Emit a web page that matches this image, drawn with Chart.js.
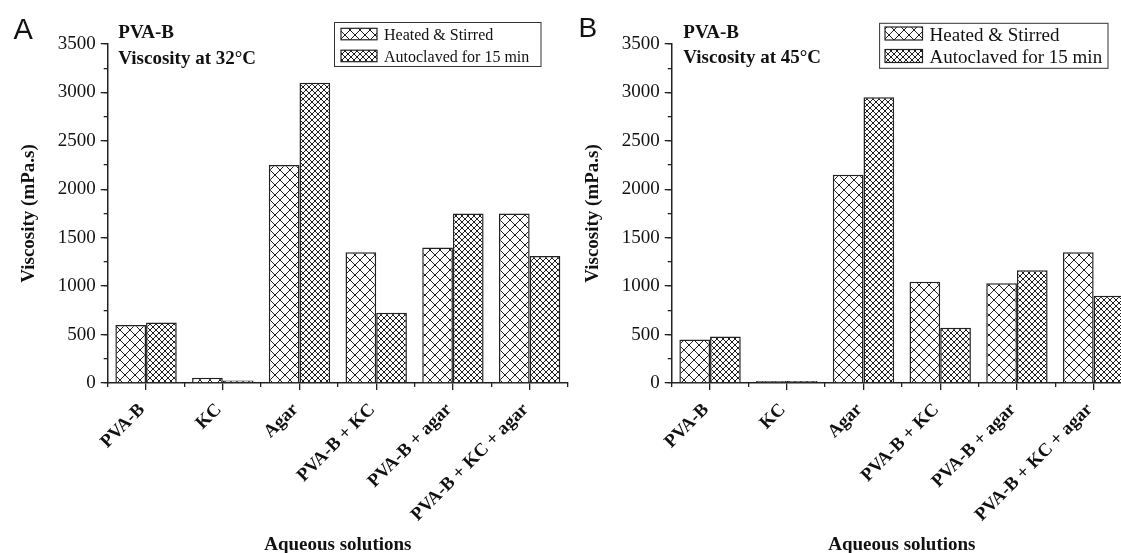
<!DOCTYPE html>
<html><head><meta charset="utf-8">
<script src="https://cdn.jsdelivr.net/npm/chart.js@4.4.1/dist/chart.umd.min.js"></script>
<style>
html,body{margin:0;padding:0;background:#fff;overflow:hidden;}
#wrap{position:relative;width:1121px;height:553px;overflow:hidden;background:#fff;}
.panel{position:absolute;top:0;width:572px;height:553px;}
</style></head><body>
<div id="wrap">
<div class="panel" style="left:0"><canvas id="cA" width="572" height="553"></canvas></div>
<div class="panel" style="left:564px"><canvas id="cB" width="572" height="553"></canvas></div>
</div>
<script>
// ---- data ----
const categories = ['PVA-B', 'KC', 'Agar', 'PVA-B + KC', 'PVA-B + agar', 'PVA-B + KC + agar'];
const seriesNames = ['Heated & Stirred', 'Autoclaved for 15 min'];
const heatedA = [600, 55, 2250, 1350, 1400, 1750];
const autoclavedA = [625, 25, 3100, 725, 1750, 1310];
const heatedB = [450, 20, 2150, 1045, 1030, 1350];
const autoclavedB = [480, 20, 2950, 570, 1165, 900];
const yMin = 0, yMax = 3500, yMajorStep = 500, yMinorStep = 250;
const xTitle = 'Aqueous solutions';
const yTitle = 'Viscosity (mPa.s)';
const notesA = ['PVA-B', 'Viscosity at 32\u00B0C'];
const notesB = ['PVA-B', 'Viscosity at 45\u00B0C'];

// ---- hatch patterns ----
function makeHatch(size) {
  const c = document.createElement('canvas');
  c.width = size; c.height = size;
  const g = c.getContext('2d');
  g.fillStyle = '#fff'; g.fillRect(0, 0, size, size);
  g.strokeStyle = '#1e1e1e'; g.lineWidth = 1;
  g.beginPath();
  g.moveTo(-1, -1); g.lineTo(size + 1, size + 1);
  g.moveTo(size + 1, -1); g.lineTo(-1, size + 1);
  g.stroke();
  return document.createElement('canvas').getContext('2d').createPattern(c, 'repeat');
}
const patHeated = makeHatch(10);
const patAuto = makeHatch(6);

const SERIF = '"Liberation Serif", "Times New Roman", serif';

const decor = {
  id: 'panelDecor',
  afterDraw(chart, args, o) {
    const ctx = chart.ctx;
    ctx.save();
    ctx.textBaseline = 'alphabetic'; ctx.textAlign = 'left';
    ctx.fillStyle = '#111';
    ctx.font = o.letterSize + 'px "Liberation Sans", Arial, sans-serif';
    ctx.fillText(o.letter, o.letterX, o.letterY);
    ctx.font = 'bold 19px ' + SERIF;
    ctx.fillText(o.notes[0], o.noteX, o.noteY[0]);
    ctx.fillText(o.notes[1], o.noteX, o.noteY[1]);
    const L = o.legend;
    ctx.strokeStyle = '#333'; ctx.lineWidth = 1;
    ctx.strokeRect(L.x, L.y, L.w, L.h);
    chart.data.datasets.forEach((ds, i) => {
      ctx.fillStyle = ds.backgroundColor;
      ctx.fillRect(L.swX, L.swY[i], L.swW, L.swH);
      ctx.strokeStyle = '#222'; ctx.lineWidth = 1.2;
      ctx.strokeRect(L.swX, L.swY[i], L.swW, L.swH);
      ctx.fillStyle = '#111';
      ctx.font = L.font + 'px ' + SERIF;
      ctx.fillText(ds.label, L.textX, L.textY[i]);
    });
    ctx.restore();
  }
};

function makeChart(id, heated, autoclaved, decorOpts) {
  return new Chart(document.getElementById(id), {
    type: 'bar',
    data: {
      labels: categories,
      datasets: [
        { label: seriesNames[0], data: heated, backgroundColor: patHeated, borderColor: '#222', borderWidth: 1.5, barPercentage: 1, categoryPercentage: 0.8 },
        { label: seriesNames[1], data: autoclaved, backgroundColor: patAuto, borderColor: '#222', borderWidth: 1.5, barPercentage: 1, categoryPercentage: 0.8 }
      ]
    },
    options: {
      responsive: false, animation: false, devicePixelRatio: 1,
      layout: { padding: { top: 44, right: 4, bottom: 0, left: 0 } },
      plugins: { legend: { display: false }, tooltip: { enabled: false }, panelDecor: decorOpts },
      scales: {
        x: {
          type: 'category', position: 'bottom', offset: true, weight: 1,
          grid: { display: true, drawOnChartArea: false, offset: false, tickLength: 7, color: '#222', lineWidth: 1.3 },
          border: { display: true, color: '#222', width: 1.5 },
          ticks: { autoSkip: false, minRotation: 45, maxRotation: 45, padding: 9, labelOffset: -4, color: '#111', font: { family: SERIF, size: 18.5, weight: 'bold' } },
          title: { display: true, text: xTitle, color: '#111', font: { family: SERIF, size: 19, weight: 'bold', lineHeight: 0.8 }, padding: 0 },
          afterFit(s) { s.height = 170; }
        },
        x2: {
          type: 'category', position: 'bottom', offset: true, weight: 0,
          grid: { display: true, drawOnChartArea: false, offset: true, tickLength: 4, color: '#222', lineWidth: 1.3 },
          border: { display: false }, ticks: { display: false },
          afterFit(s) { s.height = 0; }
        },
        y: {
          type: 'linear', position: 'left', min: yMin, max: yMax, weight: 1,
          ticks: { stepSize: yMajorStep, padding: 5, color: '#111', font: { family: SERIF, size: 19 }, callback: (v) => String(v) },
          grid: { display: true, drawOnChartArea: false, tickLength: 7, color: '#222', lineWidth: 1.3 },
          border: { display: true, color: '#222', width: 1.5 },
          title: { display: true, text: yTitle, color: '#111', font: { family: SERIF, size: 19, weight: 'bold' }, padding: { top: 17.6, bottom: 0 } },
          afterFit(s) { s.width = 107.7; }
        },
        y2: {
          type: 'linear', position: 'left', min: yMin, max: yMax, weight: 0,
          ticks: { display: false, stepSize: yMinorStep },
          grid: { display: true, drawOnChartArea: false, tickLength: 4, color: '#222', lineWidth: 1.3 },
          border: { display: false },
          afterFit(s) { s.width = 0; }
        }
      }
    },
    plugins: [decor]
  });
}

makeChart('cA', heatedA, autoclavedA, {
  letter: 'A', letterSize: 29, letterX: 13.5, letterY: 38.5,
  notes: notesA, noteX: 118.3, noteY: [38, 64],
  legend: { x: 334.5, y: 22.5, w: 206.5, h: 44, swX: 341, swW: 36, swH: 11.5, swY: [28.3, 50.2], textX: 384, textY: [39.5, 61.5], font: 16 }
});
makeChart('cB', heatedB, autoclavedB, {
  letter: 'B', letterSize: 28, letterX: 14.6, letterY: 36.7,
  notes: notesB, noteX: 119.3, noteY: [38, 63.3],
  legend: { x: 315.6, y: 23.3, w: 228.4, h: 45, swX: 321, swW: 37.5, swH: 13, swY: [27, 49.5], textX: 365.6, textY: [41, 63], font: 19 }
});
</script>
</body></html>
